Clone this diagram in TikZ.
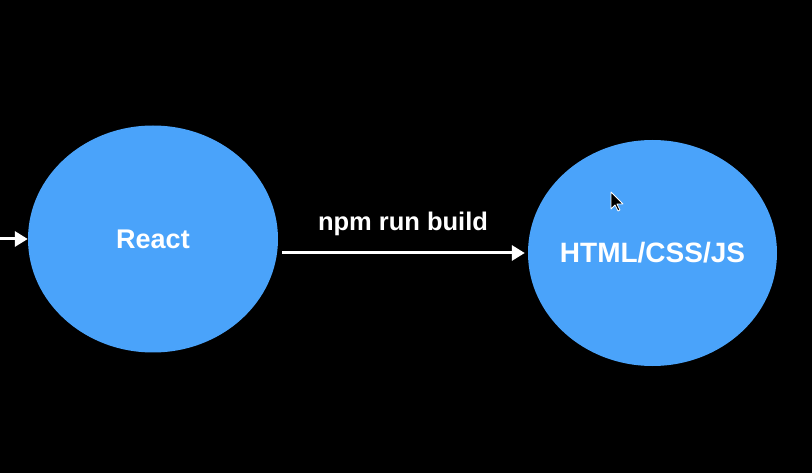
\documentclass[tikz,border=0pt]{standalone}
\usepackage{fontspec}
\setmainfont{Liberation Sans}
\usetikzlibrary{arrows.meta,shapes.geometric}
\definecolor{bubble}{RGB}{74,163,250}
\tikzset{
  bub/.style={ellipse, fill=bubble, draw=none, text=white, inner sep=0pt, font=\bfseries\fontsize{27}{30}\selectfont},
  conn/.style={draw=white, line width=3pt, -{Triangle[length=13pt,width=15pt]}},
}
\begin{document}
\begin{tikzpicture}[x=1pt,y=-1pt]
\fill[black] (0,0) rectangle (812,473);
\useasboundingbox (0,0) rectangle (812,473);
\node[bub, minimum width=250pt, minimum height=227pt] (react) at (153,239) {\makebox[0pt]{React}};
\node[bub, minimum width=249pt, minimum height=226pt, font=\bfseries\fontsize{28}{30}\selectfont] (html) at (652.5,253) {\makebox[0pt]{HTML/CSS/JS}};
\coordinate (in) at (0,239);
\draw[conn] (in) -- (react.west);
\draw[conn, shorten <=4pt, shorten >=3pt] (react.east |- 0,253) -- (html.west) node[midway, above=12pt, text=white, font=\bfseries\fontsize{25.5}{28}\selectfont] (lbl) {npm run build};
% mouse cursor
\coordinate (cur) at (611,192);
\filldraw[fill=black, draw=white, line width=0.8pt, line join=round] (cur) -- ++(0,17) -- ++(4,-4) -- ++(3,6) -- ++(2,-1) -- ++(-3,-6) -- ++(6,0) -- cycle;
\end{tikzpicture}
\end{document}
